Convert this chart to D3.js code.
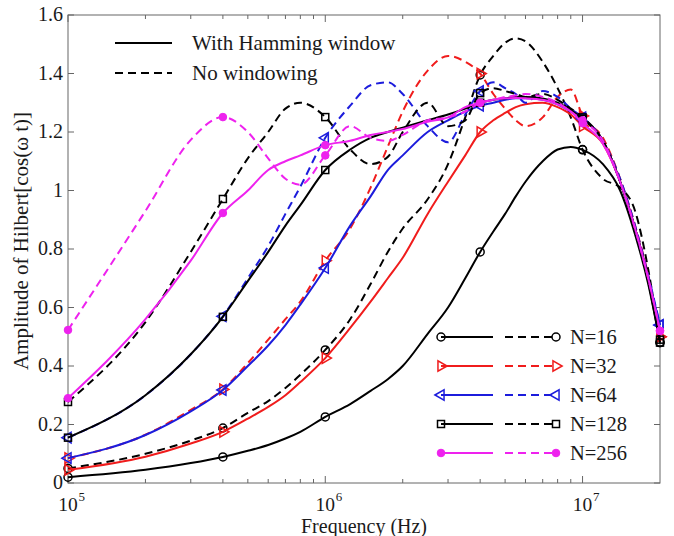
<!DOCTYPE html>
<html>
<head>
<meta charset="utf-8">
<script src="https://cdn.jsdelivr.net/npm/d3@7"></script>
<style>
  body { margin: 0; background: #fff; }
  svg { display: block; font-family: "Liberation Serif", "Times New Roman", serif; }
</style>
</head>
<body>
<div id="chart"></div>
<script>
// sample frequencies (Hz)
const freqs = [1e5, 2e5, 3e5, 4e5, 5e5, 6e5, 7e5, 8e5, 1e6, 1.25e6, 1.5e6, 1.75e6, 2e6, 2.5e6, 3e6, 3.5e6,
  4e6, 4.5e6, 5e6, 5.5e6, 6e6, 7e6, 8e6, 9e6, 1e7, 1.2e7, 1.4e7, 1.6e7, 1.8e7, 2e7];

// amplitude, Hamming window (solid) / no windowing (dashed)
const n16Hamming = [0.02, 0.045, 0.068, 0.089, 0.11, 0.13, 0.152, 0.175, 0.226, 0.27, 0.315, 0.355, 0.40, 0.51, 0.60, 0.70,
  0.79, 0.86, 0.92, 0.98, 1.03, 1.10, 1.14, 1.149, 1.139, 1.09, 1.0, 0.85, 0.68, 0.48];
const n16NoWin = [0.05, 0.10, 0.145, 0.188, 0.24, 0.28, 0.325, 0.37, 0.455, 0.56, 0.68, 0.79, 0.87, 0.97, 1.09, 1.25,
  1.395, 1.46, 1.505, 1.52, 1.51, 1.44, 1.35, 1.25, 1.14, 1.04, 1.01, 0.93, 0.73, 0.48];
const n32Hamming = [0.045, 0.09, 0.135, 0.175, 0.22, 0.26, 0.30, 0.345, 0.427, 0.53, 0.62, 0.70, 0.77, 0.92, 1.03, 1.12,
  1.20, 1.24, 1.265, 1.285, 1.295, 1.30, 1.285, 1.26, 1.22, 1.16, 1.03, 0.87, 0.70, 0.50];
const n32NoWin = [0.085, 0.165, 0.25, 0.32, 0.41, 0.49, 0.56, 0.62, 0.76, 0.87, 1.01, 1.15, 1.27, 1.41, 1.46, 1.44,
  1.40, 1.33, 1.28, 1.24, 1.22, 1.25, 1.32, 1.345, 1.255, 1.18, 1.04, 0.88, 0.71, 0.50];
const n64Hamming = [0.085, 0.164, 0.245, 0.318, 0.40, 0.47, 0.54, 0.61, 0.735, 0.88, 0.98, 1.07, 1.12, 1.20, 1.24, 1.27,
  1.29, 1.30, 1.31, 1.315, 1.315, 1.31, 1.295, 1.27, 1.245, 1.17, 1.03, 0.87, 0.70, 0.54];
const n64NoWin = [0.155, 0.30, 0.44, 0.57, 0.70, 0.81, 0.92, 1.013, 1.18, 1.29, 1.36, 1.37, 1.33, 1.22, 1.165, 1.26,
  1.34, 1.37, 1.35, 1.33, 1.30, 1.34, 1.32, 1.28, 1.25, 1.17, 1.04, 0.88, 0.71, 0.54];
const n128Hamming = [0.155, 0.30, 0.44, 0.568, 0.69, 0.79, 0.88, 0.95, 1.07, 1.14, 1.18, 1.20, 1.215, 1.24, 1.26, 1.28,
  1.30, 1.31, 1.315, 1.32, 1.32, 1.315, 1.30, 1.275, 1.245, 1.17, 1.03, 0.87, 0.69, 0.48];
const n128NoWin = [0.277, 0.55, 0.79, 0.971, 1.11, 1.20, 1.28, 1.30, 1.251, 1.14, 1.09, 1.115, 1.20, 1.30, 1.22, 1.24,
  1.333, 1.35, 1.34, 1.33, 1.32, 1.33, 1.31, 1.28, 1.25, 1.17, 1.03, 0.87, 0.70, 0.49];
const n256Hamming = [0.29, 0.56, 0.76, 0.923, 1.0, 1.07, 1.10, 1.12, 1.155, 1.17, 1.19, 1.20, 1.21, 1.235, 1.25, 1.285,
  1.30, 1.31, 1.315, 1.316, 1.315, 1.31, 1.295, 1.27, 1.23, 1.16, 1.03, 0.87, 0.70, 0.52];
const n256NoWin = [0.523, 0.93, 1.173, 1.251, 1.20, 1.11, 1.04, 1.02, 1.12, 1.22, 1.18, 1.17, 1.19, 1.24, 1.25, 1.27,
  1.30, 1.31, 1.32, 1.325, 1.33, 1.32, 1.30, 1.27, 1.24, 1.17, 1.03, 0.87, 0.70, 0.52];

// frequencies that carry a marker
const markerFreqs = [1e5, 4e5, 1e6, 4e6, 1e7, 2e7];

const seriesLabels = ['N=16', 'N=32', 'N=64', 'N=128', 'N=256'];
const yTicks = [0, 0.2, 0.4, 0.6, 0.8, 1, 1.2, 1.4, 1.6];
const yTickLabels = ['0', '0.2', '0.4', '0.6', '0.8', '1', '1.2', '1.4', '1.6'];
const xMajorTicks = [1e5, 1e6, 1e7];
const xTickExponents = ['5', '6', '7'];
const styleLabels = ['With Hamming window', 'No windowing'];

const width = 674;
const height = 536;
const margin = { top: 15, right: 14, bottom: 53, left: 68 };
const axisColor = '#666';
const textColor = '#1a1a1a';
const dash = '8,5';

const series = [
  { label: seriesLabels[0], color: '#000', marker: 'circle', hamming: n16Hamming, noWin: n16NoWin },
  { label: seriesLabels[1], color: '#f01c1c', marker: 'triRight', hamming: n32Hamming, noWin: n32NoWin },
  { label: seriesLabels[2], color: '#1c1cdc', marker: 'triLeft', hamming: n64Hamming, noWin: n64NoWin },
  { label: seriesLabels[3], color: '#000', marker: 'square', hamming: n128Hamming, noWin: n128NoWin },
  { label: seriesLabels[4], color: '#ee22ee', marker: 'dot', hamming: n256Hamming, noWin: n256NoWin },
];

const x = d3.scaleLog()
  .domain([1e5, 2e7])
  .range([margin.left, width - margin.right]);

const y = d3.scaleLinear()
  .domain([0, 1.6])
  .range([height - margin.bottom, margin.top]);

const svg = d3.select('#chart')
  .append('svg')
  .attr('width', width)
  .attr('height', height);

const x0 = x.range()[0];
const x1 = x.range()[1];
const yBot = y.range()[0];
const yTop = y.range()[1];

// ticks (inside, on all four sides)
const minorTicks = [];
[1e5, 1e6, 1e7].forEach(dec => {
  for (let k = 2; k <= 9; k++) {
    const f = dec * k;
    if (f < 2e7) minorTicks.push(f);
  }
});

const tickG = svg.append('g').attr('stroke', axisColor).attr('stroke-width', 1);
minorTicks.forEach(f => {
  tickG.append('line').attr('x1', x(f)).attr('x2', x(f)).attr('y1', yBot).attr('y2', yBot - 4);
  tickG.append('line').attr('x1', x(f)).attr('x2', x(f)).attr('y1', yTop).attr('y2', yTop + 4);
});
xMajorTicks.forEach(f => {
  tickG.append('line').attr('x1', x(f)).attr('x2', x(f)).attr('y1', yBot).attr('y2', yBot - 7);
  tickG.append('line').attr('x1', x(f)).attr('x2', x(f)).attr('y1', yTop).attr('y2', yTop + 7);
});
yTicks.forEach(v => {
  tickG.append('line').attr('x1', x0).attr('x2', x0 + 6).attr('y1', y(v)).attr('y2', y(v));
  tickG.append('line').attr('x1', x1).attr('x2', x1 - 6).attr('y1', y(v)).attr('y2', y(v));
});

// box
svg.append('rect')
  .attr('x', x0)
  .attr('y', yTop)
  .attr('width', x1 - x0)
  .attr('height', yBot - yTop)
  .attr('fill', 'none')
  .attr('stroke', axisColor)
  .attr('stroke-width', 1);

// tick labels
svg.append('g')
  .selectAll('text')
  .data(yTicks)
  .enter()
  .append('text')
  .attr('x', x0 - 5)
  .attr('y', d => y(d))
  .attr('dy', '0.3em')
  .attr('text-anchor', 'end')
  .attr('font-size', 20)
  .attr('fill', textColor)
  .text((d, i) => yTickLabels[i]);

const xLab = svg.append('g').attr('fill', textColor);
xMajorTicks.forEach((f, i) => {
  xLab.append('text')
    .attr('x', x(f))
    .attr('y', yBot + 27.5)
    .attr('text-anchor', 'middle')
    .attr('font-size', 19.5)
    .text('10');
  xLab.append('text')
    .attr('x', x(f) + 10.5)
    .attr('y', yBot + 17.5)
    .attr('font-size', 13)
    .text(xTickExponents[i]);
});

// axis titles
svg.append('text')
  .attr('x', (x0 + x1) / 2)
  .attr('y', height - 3.5)
  .attr('text-anchor', 'middle')
  .attr('font-size', 20)
  .attr('fill', textColor)
  .text('Frequency (Hz)');

svg.append('text')
  .attr('transform', 'translate(28, 241) rotate(-90)')
  .attr('text-anchor', 'middle')
  .attr('font-size', 21)
  .attr('fill', textColor)
  .text('Amplitude of Hilbert[cos(ω t)]');

// curves
const line = d3.line()
  .x(d => x(d[0]))
  .y(d => y(d[1]))
  .curve(d3.curveMonotoneX);

const symbolFor = (g, kind, color, cx, cy) => {
  if (kind === 'circle') {
    g.append('circle').attr('cx', cx).attr('cy', cy).attr('r', 4)
      .attr('fill', 'none').attr('stroke', color).attr('stroke-width', 1.5);
  } else if (kind === 'square') {
    g.append('rect').attr('x', cx - 3.5).attr('y', cy - 3.5).attr('width', 7).attr('height', 7)
      .attr('fill', 'none').attr('stroke', color).attr('stroke-width', 1.5);
  } else if (kind === 'dot') {
    g.append('circle').attr('cx', cx).attr('cy', cy).attr('r', 3.8)
      .attr('fill', color).attr('stroke', color).attr('stroke-width', 1);
  } else {
    const rot = kind === 'triRight' ? 90 : -90;
    g.append('path')
      .attr('d', d3.symbol().type(d3.symbolTriangle).size(48)())
      .attr('transform', `translate(${cx},${cy}) rotate(${rot})`)
      .attr('fill', 'none').attr('stroke', color).attr('stroke-width', 1.5);
  }
};

const plotG = svg.append('g');
series.forEach(s => {
  [['hamming', null], ['noWin', dash]].forEach(([key, dashArr]) => {
    const pts = freqs.map((f, i) => [f, s[key][i]]);
    plotG.append('path')
      .attr('d', line(pts))
      .attr('fill', 'none')
      .attr('stroke', s.color)
      .attr('stroke-width', 2)
      .attr('stroke-dasharray', dashArr);
    markerFreqs.forEach(f => {
      const i = freqs.indexOf(f);
      symbolFor(plotG, s.marker, s.color, x(f), y(s[key][i]));
    });
  });
});

// style legend (top left)
const lg1 = svg.append('g');
styleLabels.forEach((t, i) => {
  const ly = 43 + i * 30;
  lg1.append('line')
    .attr('x1', 115).attr('x2', 172).attr('y1', ly).attr('y2', ly)
    .attr('stroke', '#000').attr('stroke-width', 2)
    .attr('stroke-dasharray', i === 1 ? dash : null);
  lg1.append('text')
    .attr('x', 192).attr('y', ly).attr('dy', '0.35em')
    .attr('font-size', 21).attr('fill', textColor)
    .text(t);
});

// series legend (bottom right)
const lg2 = svg.append('g');
series.forEach((s, i) => {
  const ly = 337 + i * 29;
  lg2.append('line')
    .attr('x1', 441).attr('x2', 493).attr('y1', ly).attr('y2', ly)
    .attr('stroke', s.color).attr('stroke-width', 2);
  lg2.append('line')
    .attr('x1', 505).attr('x2', 556).attr('y1', ly).attr('y2', ly)
    .attr('stroke', s.color).attr('stroke-width', 2)
    .attr('stroke-dasharray', dash);
  symbolFor(lg2, s.marker, s.color, 441, ly);
  symbolFor(lg2, s.marker, s.color, 556, ly);
  lg2.append('text')
    .attr('x', 570).attr('y', ly).attr('dy', '0.35em')
    .attr('font-size', 20.5).attr('fill', textColor)
    .text(s.label);
});
</script>
</body>
</html>
